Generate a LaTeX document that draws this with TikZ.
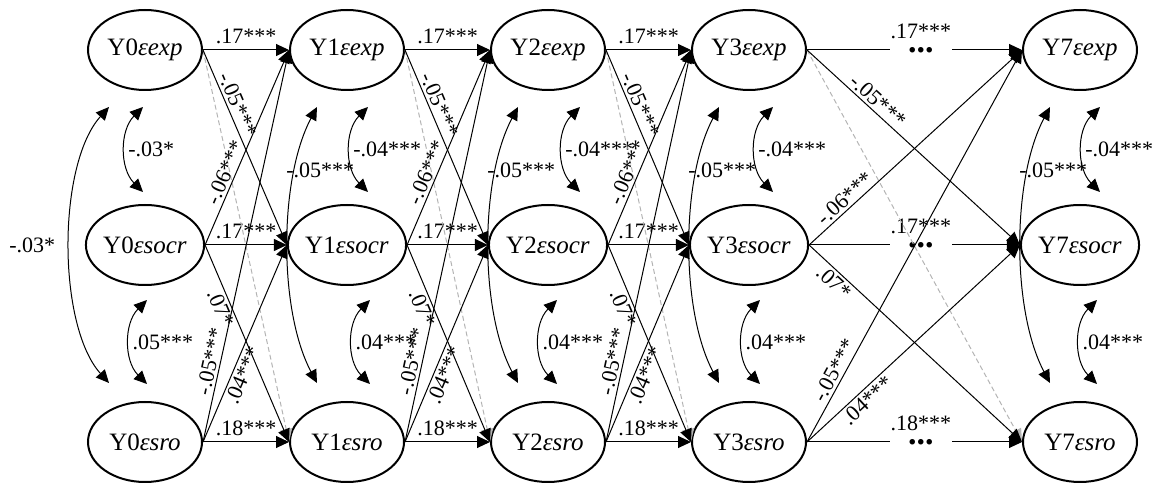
\documentclass[tikz,border=0pt]{standalone}
\usepackage{fontspec}
\setmainfont{Liberation Serif}
\usepackage{tikz}
\usetikzlibrary{positioning,calc,shapes.geometric,arrows.meta}
\usepackage{xcolor}
\definecolor{dashgrey}{HTML}{B4B4B4}
\tikzset{
  latent/.style={draw,ellipse,line width=1pt,fill=white,minimum width=57pt,
        minimum height=40pt,inner sep=0pt,font=\fontsize{12.5}{14}\selectfont},
  lag/.style={line width=0.5pt,-{Triangle[length=6.5pt,width=6pt]}},
  ghost/.style={line width=0.5pt,dashgrey,dash pattern=on 2.5pt off 1.5pt,
        -{Triangle[length=6.5pt,width=6pt]}},
  cov/.style={line width=0.5pt,
        {Triangle[length=6.5pt,width=6pt]}-{Triangle[length=6.5pt,width=6pt]}},
  est/.style={font=\fontsize{11}{12}\selectfont,inner sep=1.2pt,text=black},
}
% one wave: x, wave, x of upper cov, x of lower cov, upper est, lower est
\newcommand{\wavecol}[6]{%
  \node[latent] (e#2) at (#1,432) {Y#2\textit{εexp}};
  \node[latent] (s#2) at (#1,237) {Y#2\textit{εsocr}};
  \node[latent] (r#2) at (#1,40) {Y#2\textit{εsro}};
  \coordinate (ua#2) at (#3,375); \coordinate (ub#2) at (#3,290);
  \coordinate (la#2) at (#4,182); \coordinate (lb#2) at (#4,98);
  \draw[cov] (ua#2) to[bend right=45] node[est,right] (cu#2) {#5} (ub#2);
  \draw[cov] (la#2) to[bend right=45] node[est,right] (cl#2) {#6} (lb#2);
}
\newcommand{\wavespan}[2]{%
  \coordinate (oa#2) at (#1-30,375); \coordinate (ob#2) at (#1-30,99);
  \draw[cov] (oa#2) to[bend right=28,looseness=0.76]
        node[est,pos=0.25,anchor=west,xshift=-6pt] (co#2) {-.05***} (ob#2);
}
\newcommand{\autoreg}[4]{%
  \draw[lag] (#3#1.east) -- node[est,above=1.5pt] (a#3#1) {#4} (#3#2.west);
}
\newcommand{\autoskip}[4]{%
  \draw[lag] (#3#1.east) --
        node[pos=0.53,fill=white,inner sep=0pt,minimum width=31pt,
             font=\fontsize{17}{17}\selectfont\bfseries] (d#3#1) {...} (#3#2.west);
  \node[est,above=2.5pt of d#3#1] (a#3#1) {#4};
}
% cross-lagged paths: from, to, then the five label positions
\newcommand{\crosslag}[7]{%
  \draw[ghost] (e#1.east) -- (r#2.west);
  \draw[lag] (e#1.east) -- node[est,sloped,above,pos=#3] (xes#1) {-.05***} (s#2.west);
  \draw[lag] (s#1.east) -- node[est,sloped,above,pos=#4] (xse#1) {-.06***} (e#2.west);
  \draw[lag] (s#1.east) -- node[est,sloped,below,pos=#5] (xsr#1) {.07*} (r#2.west);
  \draw[lag] (r#1.east) -- node[est,sloped,above,pos=#6] (xre#1) {-.05***} (e#2.west);
  \draw[lag] (r#1.east) -- node[est,sloped,below,pos=#7] (xrs#1) {.04***} (s#2.west);
}

\begin{document}
\begin{tikzpicture}[x=0.5pt,y=0.5pt]
  \useasboundingbox (0,0) rectangle (1162,482);
  \wavecol{145}{0}{143}{147}{-.03*}{.05***}
  \wavecol{347}{1}{368}{370}{-.04***}{.04***}
  \wavecol{548}{2}{580}{557}{-.04***}{.04***}
  \wavecol{749}{3}{773}{760}{-.04***}{.04***}
  \wavecol{1080}{7}{1100}{1097}{-.04***}{.04***}
  % wave 0 has its own long covariance
  \coordinate (oa0) at (109,375); \coordinate (ob0) at (109,99);
  \draw[cov] (oa0) to[bend right=42,looseness=0.72] node[est,left=6pt] (co0) {-.03*} (ob0);
  \wavespan{347}{1}
  \wavespan{548}{2}
  \wavespan{749}{3}
  \wavespan{1080}{7}
  \autoreg{0}{1}{e}{.17***} \autoreg{0}{1}{s}{.17***} \autoreg{0}{1}{r}{.18***}
  \autoreg{1}{2}{e}{.17***} \autoreg{1}{2}{s}{.17***} \autoreg{1}{2}{r}{.18***}
  \autoreg{2}{3}{e}{.17***} \autoreg{2}{3}{s}{.17***} \autoreg{2}{3}{r}{.18***}
  \autoskip{3}{7}{e}{.17***} \autoskip{3}{7}{s}{.17***} \autoskip{3}{7}{r}{.18***}
  \crosslag{0}{1}{0.3}{0.35}{0.3}{0.2}{0.36}
  \crosslag{1}{2}{0.3}{0.35}{0.3}{0.2}{0.36}
  \crosslag{2}{3}{0.3}{0.35}{0.3}{0.2}{0.36}
  \crosslag{3}{7}{0.3}{0.2}{0.15}{0.17}{0.25}
\end{tikzpicture}
\end{document}
